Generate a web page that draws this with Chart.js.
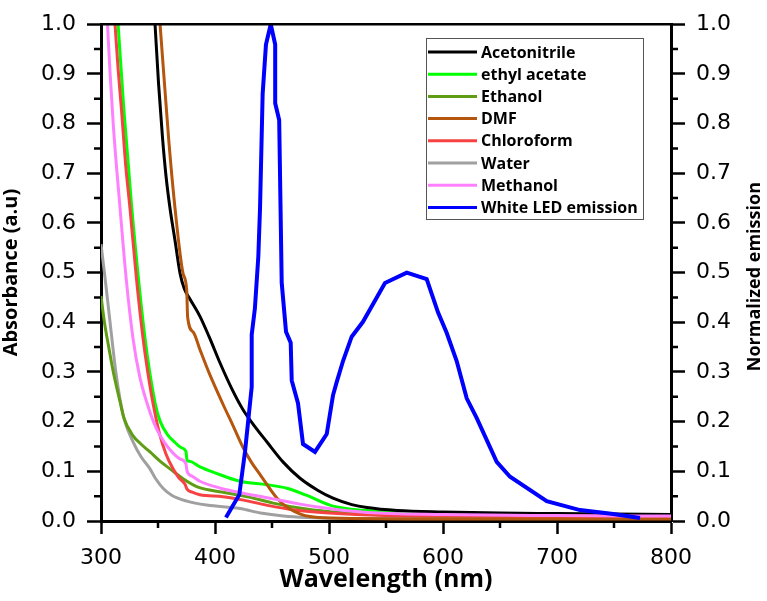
<!DOCTYPE html>
<html>
<head>
<meta charset="utf-8">
<script src="https://cdn.jsdelivr.net/npm/chart.js@4.4.1/dist/chart.umd.min.js"></script>
<style>
  body { margin: 0; background: #fff; }
</style>
</head>
<body>
<canvas id="spectra" width="767" height="601"></canvas>
<script>
// values: wavelength (nm) and absorbance / normalized emission
const acetonitrileNm  = [347.4, 350.5, 354, 357, 360.5, 364.9, 369.3, 373, 378, 386.8, 395, 405, 415, 424.6, 435, 445.6, 460, 474.6, 490, 503.5, 520, 533.3, 560, 600, 650, 700, 750, 800];
const acetonitrileAbs = [1.0, 0.88, 0.77, 0.695, 0.63, 0.565, 0.499, 0.468, 0.447, 0.412, 0.37, 0.315, 0.265, 0.224, 0.19, 0.159, 0.118, 0.086, 0.062, 0.046, 0.033, 0.027, 0.021, 0.018, 0.016, 0.015, 0.014, 0.013];

const ethylAcetateNm  = [315, 320, 327, 338.5, 347.5, 352, 359, 365, 370, 374.5, 375.5, 378, 386.8, 400, 421.9, 445.6, 463, 480, 503.5, 533.3, 560, 600, 700, 800];
const ethylAcetateAbs = [1.0, 0.83, 0.63, 0.37, 0.237, 0.2, 0.172, 0.158, 0.148, 0.14, 0.122, 0.12, 0.109, 0.097, 0.08, 0.073, 0.066, 0.052, 0.03, 0.021, 0.017, 0.015, 0.013, 0.012];

const ethanolNm  = [300, 303, 306.4, 310.8, 316.7, 320, 328, 335, 343, 352, 360.5, 372, 385, 407, 430, 451, 480, 510, 550, 600, 700, 800];
const ethanolAbs = [0.453, 0.4, 0.355, 0.3, 0.24, 0.208, 0.172, 0.155, 0.139, 0.12, 0.105, 0.085, 0.068, 0.058, 0.048, 0.036, 0.024, 0.017, 0.012, 0.01, 0.009, 0.008];

const dmfNm  = [351.8, 355.7, 359.6, 364.9, 371.9, 375.2, 376, 381, 386.8, 395, 407, 415.8, 424.6, 432, 440, 454.4, 465, 475, 483.3, 500, 600, 700, 800];
const dmfAbs = [1.0, 0.88, 0.762, 0.63, 0.499, 0.464, 0.41, 0.38, 0.345, 0.297, 0.235, 0.192, 0.148, 0.118, 0.092, 0.046, 0.025, 0.014, 0.009, 0.006, 0.004, 0.004, 0.004];

const chloroformNm  = [312.3, 315, 318, 321.5, 325.4, 331, 336.8, 341, 345.6, 351.8, 357, 363.2, 368, 373.7, 375.5, 380, 386.8, 407, 425, 445, 470, 500, 550, 600, 700, 800];
const chloroformAbs = [1.0, 0.91, 0.827, 0.72, 0.63, 0.49, 0.369, 0.3, 0.237, 0.172, 0.135, 0.105, 0.088, 0.074, 0.064, 0.058, 0.053, 0.049, 0.042, 0.032, 0.022, 0.016, 0.011, 0.01, 0.009, 0.008];

const waterNm  = [300, 303, 306, 309.4, 313, 316.7, 321, 328, 335, 343, 348, 354.4, 362, 375.4, 393, 421.9, 440, 460, 480, 520, 600, 700, 800];
const waterAbs = [0.557, 0.5, 0.44, 0.37, 0.3, 0.245, 0.2, 0.16, 0.13, 0.105, 0.085, 0.066, 0.052, 0.04, 0.032, 0.025, 0.016, 0.01, 0.007, 0.005, 0.007, 0.01, 0.012];

const methanolNm  = [305.7, 308, 311, 316.7, 322, 328, 334, 340.4, 346, 351.8, 360, 369.3, 374.5, 375.5, 380, 386.8, 405, 424.6, 450, 474.6, 500, 533.3, 600, 700, 800];
const methanolAbs = [1.0, 0.9, 0.79, 0.63, 0.49, 0.369, 0.29, 0.237, 0.2, 0.172, 0.145, 0.125, 0.115, 0.1, 0.09, 0.08, 0.066, 0.056, 0.045, 0.034, 0.025, 0.017, 0.013, 0.011, 0.01];

const ledNm       = [409.6, 421.3, 426.3, 432.2, 432.2, 435, 438, 439.5, 441.8, 444.7, 448.9, 452.8, 452.8, 456.3, 457.5, 458.5, 462.3, 466.4, 467.3, 472.8, 477.2, 487.7, 498, 503.5, 506.8, 512.3, 519.9, 529.8, 549.1, 568.2, 585.7, 595.6, 603.2, 612, 620.8, 629.6, 647.1, 658.8, 691, 720.2, 749.4, 772.8];
const ledEmission = [0.007, 0.053, 0.139, 0.27, 0.375, 0.428, 0.532, 0.63, 0.86, 0.959, 1.0, 0.959, 0.841, 0.807, 0.63, 0.48, 0.381, 0.359, 0.283, 0.237, 0.155, 0.139, 0.175, 0.253, 0.28, 0.322, 0.371, 0.401, 0.479, 0.5, 0.487, 0.42, 0.379, 0.322, 0.247, 0.207, 0.119, 0.089, 0.04, 0.022, 0.014, 0.006];

const xTicks = [300, 400, 500, 600, 700, 800];
const xMinor = [350, 450, 550, 650, 750];
const yTicks = [0, 0.1, 0.2, 0.3, 0.4, 0.5, 0.6, 0.7, 0.8, 0.9, 1.0];
const yMinor = [0.05, 0.15, 0.25, 0.35, 0.45, 0.55, 0.65, 0.75, 0.85, 0.95];

const pts = (xs, ys) => xs.map((x, i) => ({ x: x, y: ys[i] }));

const TICK_FONT = { family: 'DejaVu Sans', size: 22 };
const TITLE_FAMILY = 'Open Sans';

function absSet(label, xs, ys, color, order) {
  return {
    label: label, data: pts(xs, ys), borderColor: color, backgroundColor: color,
    borderWidth: 3, pointRadius: 0, fill: false, yAxisID: 'y',
    cubicInterpolationMode: 'monotone', order: order
  };
}

// axis frame extras: top border, minor ticks, right-hand title
const frame = {
  id: 'frame',
  afterDraw(chart) {
    const { ctx, chartArea: a, scales } = chart;
    ctx.save();
    ctx.strokeStyle = '#000';
    ctx.lineWidth = 2.5;
    ctx.beginPath();
    ctx.moveTo(a.left - 1, a.top);
    ctx.lineTo(a.right + 1, a.top);
    xMinor.forEach(v => {
      const x = scales.x.getPixelForValue(v);
      ctx.moveTo(x, a.bottom); ctx.lineTo(x, a.bottom + 7);
    });
    yMinor.forEach(v => {
      const y = scales.y.getPixelForValue(v);
      ctx.moveTo(a.left - 7, y); ctx.lineTo(a.left, y);
      ctx.moveTo(a.right, y); ctx.lineTo(a.right + 7, y);
    });
    ctx.stroke();

    ctx.translate(755, (a.top + a.bottom) / 2 + 4);
    ctx.rotate(-Math.PI / 2);
    ctx.fillStyle = '#000';
    ctx.font = 'bold 18px "' + TITLE_FAMILY + '"';
    ctx.textAlign = 'center';
    ctx.textBaseline = 'middle';
    ctx.fillText('Normalized emission', 0, 0);
    ctx.restore();
  }
};

// legend box inside the plot, drawn from the datasets
const boxLegend = {
  id: 'boxLegend',
  afterDraw(chart) {
    const ctx = chart.ctx;
    const left = 426, top = 38, w = 217, h = 181;
    ctx.save();
    ctx.fillStyle = '#fff';
    ctx.fillRect(left, top, w, h);
    ctx.strokeStyle = '#555';
    ctx.lineWidth = 1;
    ctx.strokeRect(left + 0.5, top + 0.5, w, h);
    ctx.font = 'bold 16px "' + TITLE_FAMILY + '"';
    ctx.textBaseline = 'middle';
    ctx.fillStyle = '#000';
    chart.data.datasets.forEach((ds, i) => {
      const y = 52 + i * 22.2;
      ctx.strokeStyle = ds.borderColor;
      ctx.lineWidth = 3;
      ctx.beginPath();
      ctx.moveTo(left + 2, y); ctx.lineTo(left + 51, y);
      ctx.stroke();
      ctx.fillText(ds.label, left + 55, y + 1);
    });
    ctx.restore();
  }
};

new Chart(document.getElementById('spectra'), {
  type: 'line',
  data: {
    datasets: [
      absSet('Acetonitrile', acetonitrileNm, acetonitrileAbs, '#000000', 3),
      absSet('ethyl acetate', ethylAcetateNm, ethylAcetateAbs, '#00ff00', 5),
      absSet('Ethanol', ethanolNm, ethanolAbs, '#5f9e14', 6),
      absSet('DMF', dmfNm, dmfAbs, '#b5560e', 2),
      absSet('Chloroform', chloroformNm, chloroformAbs, '#f64242', 4),
      absSet('Water', waterNm, waterAbs, '#a0a0a0', 7),
      absSet('Methanol', methanolNm, methanolAbs, '#ff80ff', 1),
      {
        label: 'White LED emission', data: pts(ledNm, ledEmission),
        borderColor: '#0000ff', backgroundColor: '#0000ff', borderWidth: 4,
        pointRadius: 0, fill: false, tension: 0, yAxisID: 'y2', order: 0
      }
    ]
  },
  options: {
    responsive: false,
    animation: false,
    devicePixelRatio: 1,
    layout: { padding: { top: 12, left: 0, right: 0, bottom: 0 } },
    plugins: { legend: { display: false }, tooltip: { enabled: false } },
    scales: {
      x: {
        type: 'linear', min: 300, max: 800,
        afterFit: s => { s.height = 80; },
        afterBuildTicks: s => { s.ticks = xTicks.map(v => ({ value: v })); },
        border: { display: true, color: '#000', width: 3 },
        grid: { drawOnChartArea: false, drawTicks: true, tickLength: 13, tickWidth: 2.5, tickColor: '#000' },
        ticks: { color: '#000', font: TICK_FONT, padding: 11, maxRotation: 0, callback: v => String(v) },
        title: {
          display: true, text: 'Wavelength (nm)', color: '#000',
          font: { family: TITLE_FAMILY, weight: 'bold', size: 25, lineHeight: 1.2 },
          padding: { top: 0, bottom: 6 }
        }
      },
      y: {
        type: 'linear', position: 'left', min: 0, max: 1,
        afterFit: s => { s.width = 101; },
        afterBuildTicks: s => { s.ticks = yTicks.map(v => ({ value: v })); },
        border: { display: true, color: '#000', width: 3 },
        grid: { drawOnChartArea: false, drawTicks: true, tickLength: 14, tickWidth: 2.5, tickColor: '#000' },
        ticks: { color: '#000', font: TICK_FONT, padding: 11, callback: v => v.toFixed(1) },
        title: {
          display: true, text: 'Absorbance (a.u)', color: '#000',
          font: { family: TITLE_FAMILY, weight: 'bold', size: 20, lineHeight: 1 },
          padding: { top: 1, bottom: 0 }
        }
      },
      y2: {
        type: 'linear', position: 'right', min: 0, max: 1,
        afterFit: s => { s.width = 96; },
        afterBuildTicks: s => { s.ticks = yTicks.map(v => ({ value: v })); },
        border: { display: true, color: '#000', width: 3 },
        grid: { drawOnChartArea: false, drawTicks: true, tickLength: 14, tickWidth: 2.5, tickColor: '#000' },
        ticks: { color: '#000', font: TICK_FONT, padding: 11, callback: v => v.toFixed(1) }
      }
    }
  },
  plugins: [frame, boxLegend]
});
</script>
</body>
</html>
